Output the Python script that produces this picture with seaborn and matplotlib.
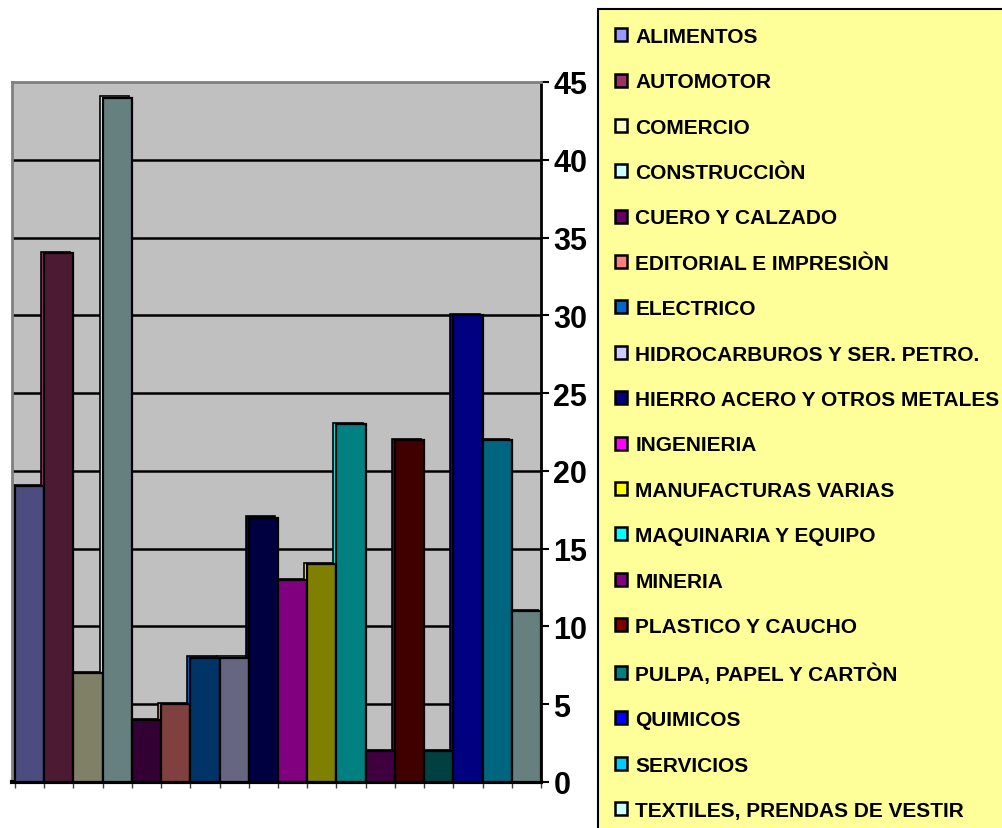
import matplotlib
matplotlib.use("Agg")
import matplotlib.pyplot as plt
import seaborn as sns
import pandas as pd
import numpy as np
from matplotlib.patches import Patch, Rectangle

categories = ["ALIMENTOS", "AUTOMOTOR", "COMERCIO", "CONSTRUCCIÒN", "CUERO Y CALZADO",
              "EDITORIAL E IMPRESIÒN", "ELECTRICO", "HIDROCARBUROS Y SER. PETRO.",
              "HIERRO ACERO Y OTROS METALES", "INGENIERIA", "MANUFACTURAS VARIAS",
              "MAQUINARIA Y EQUIPO", "MINERIA", "PLASTICO Y CAUCHO",
              "PULPA, PAPEL Y CARTÒN", "QUIMICOS", "SERVICIOS", "TEXTILES, PRENDAS DE VESTIR"]
values = [19, 34, 7, 44, 4, 5, 8, 8, 17, 13, 14, 23, 2, 22, 2, 30, 22, 11]
legend_colors = ["#9999FF", "#993366", "#FFFFCC", "#CCFFFF", "#660066", "#FF8080",
                 "#0066CC", "#CCCCFF", "#000080", "#FF00FF", "#FFFF00", "#00FFFF",
                 "#800080", "#800000", "#008080", "#0000FF", "#00CCFF", "#CCFFFF"]
front_colors = ["#4C4C80", "#4C1A33", "#808066", "#668080", "#330033", "#804040",
                "#003366", "#666680", "#000040", "#800080", "#808000", "#008080",
                "#400040", "#400000", "#004040", "#000080", "#006680", "#668080"]
yticks = [0, 5, 10, 15, 20, 25, 30, 35, 40, 45]

df = pd.DataFrame({"cat": categories, "val": values})

W, H = 1002, 829
fig = plt.figure(figsize=(W / 100, H / 100), dpi=100)
ax = fig.add_axes([12 / W, (H - 783) / H, (541 - 12) / W, 700 / H])
ax.set_facecolor("#C0C0C0")

# side faces (3D effect) drawn behind the front faces
xs = np.arange(len(values))
ax.bar(xs - 0.1, np.array(values) + 0.07, width=1.0, color=legend_colors,
       edgecolor="black", linewidth=1.2, zorder=2)

sns.barplot(data=df, x="cat", y="val", hue="cat", palette=front_colors,
            width=1.0, edgecolor="black", linewidth=1.6, legend=False,
            ax=ax, zorder=3, saturation=1)

ax.set_xlim(-0.6, 17.5)
ax.set_ylim(0, 45)
ax.yaxis.tick_right()
ax.set_yticks(yticks)
ax.set_yticklabels([str(t) for t in yticks], fontsize=22, fontweight="bold",
                   family="Liberation Sans")
ax.tick_params(axis="y", length=6, width=1.5, pad=3, color="black")
ax.set_xticks(np.arange(len(values) + 1) - 0.5)
ax.set_xticklabels([])
ax.tick_params(axis="x", length=4, width=1.0, color="#404040")
ax.set_xlabel("")
ax.set_ylabel("")
for t in yticks[1:-1]:
    ax.axhline(t, color="black", lw=1.8, zorder=1)
ax.spines["top"].set_color("#808080")
ax.spines["top"].set_linewidth(2)
ax.spines["left"].set_color("#808080")
ax.spines["left"].set_linewidth(2)
ax.spines["right"].set_color("black")
ax.spines["right"].set_linewidth(2)
ax.spines["bottom"].set_color("black")
ax.spines["bottom"].set_linewidth(3)

# legend box
fig.patches.append(Rectangle((598 / W, -0.1), 0.5, (H - 10) / H + 0.1,
                             transform=fig.transFigure, facecolor="#FFFF99",
                             edgecolor="black", linewidth=1.5, zorder=0))
handles = [Patch(facecolor=c, edgecolor="black", linewidth=1.8) for c in legend_colors]
leg = fig.legend(handles, categories, loc="upper left",
                 bbox_to_anchor=(615 / W, (H - 28) / H), frameon=False,
                 prop={"family": "Liberation Sans", "weight": "bold", "size": 15},
                 handlelength=0.58, handleheight=0.58, handletextpad=0.40,
                 labelspacing=1.266, borderpad=0, borderaxespad=0)

fig.savefig("out.png", dpi=100, facecolor="white")
